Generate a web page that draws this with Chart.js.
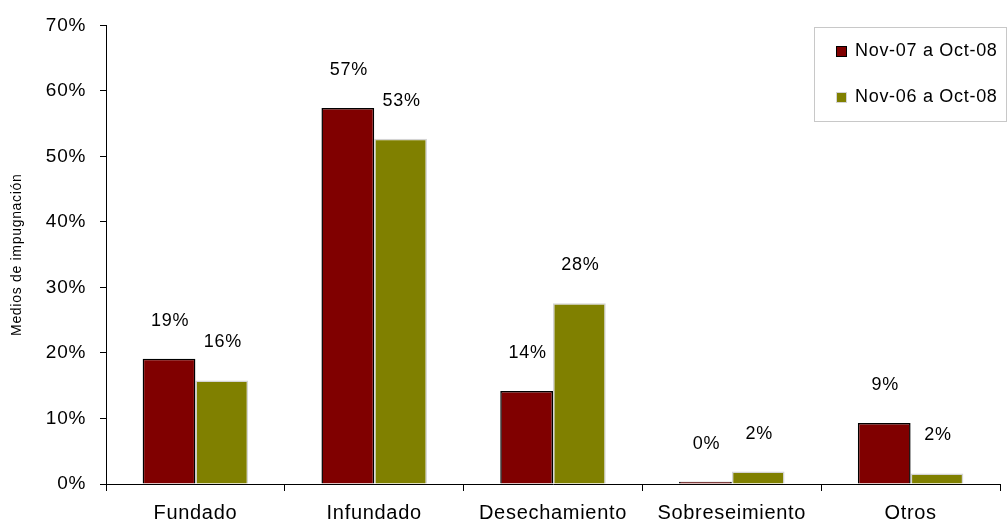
<!DOCTYPE html>
<html>
<head>
<meta charset="utf-8">
<script src="https://cdn.jsdelivr.net/npm/chart.js@4.4.0/dist/chart.umd.min.js"></script>
<style>
    html, body { margin: 0; padding: 0; background: #ffffff; }
    #wrap { width: 1007px; height: 525px; }
</style>
</head>
<body>
<div id="wrap"><canvas id="myChart" width="1007" height="525"></canvas></div>
<script>
/* datos */
const categorias = ['Fundado', 'Infundado', 'Desechamiento', 'Sobreseimiento', 'Otros'];
const nombresSeries = ['Nov-07 a Oct-08', 'Nov-06 a Oct-08'];
const serieNov07 = [19.1, 57.4, 14.2, 0.35, 9.3];
const serieNov06 = [15.8, 52.7, 27.6, 1.9, 1.6];
const ticksY = [0, 10, 20, 30, 40, 50, 60, 70];

const fuente = 'Arial, "Liberation Sans", sans-serif';
const espaciado = '0.7px';

// el grafico original tiene el texto algo ensanchado
const espaciadoLetras = {
    id: 'espaciadoLetras',
    beforeLayout(chart) { chart.ctx.letterSpacing = espaciado; },
    beforeDraw(chart) { chart.ctx.letterSpacing = espaciado; }
};

const etiquetasBarras = {
    id: 'etiquetasBarras',
    afterDatasetsDraw(chart) {
        const ctx = chart.ctx;
        ctx.save();
        ctx.font = '18px ' + fuente;
        ctx.fillStyle = '#000000';
        ctx.textAlign = 'center';
        ctx.textBaseline = 'middle';
        chart.data.datasets.forEach((ds, i) => {
            chart.getDatasetMeta(i).data.forEach((bar, j) => {
                ctx.fillText(Math.round(ds.data[j]) + '%', bar.x + 1, bar.y - 38);
            });
        });
        ctx.restore();
    }
};

const leyenda = {
    id: 'leyenda',
    afterDraw(chart) {
        const ctx = chart.ctx;
        ctx.save();
        ctx.fillStyle = '#ffffff';
        ctx.fillRect(814, 27, 192, 94);
        ctx.strokeStyle = '#c8c8c8';
        ctx.lineWidth = 1;
        ctx.strokeRect(814.5, 27.5, 192, 94);
        ctx.font = '18px ' + fuente;
        ctx.textBaseline = 'middle';
        ctx.textAlign = 'left';
        chart.data.datasets.forEach((ds, i) => {
            const y = 51 + i * 46;
            ctx.fillStyle = ds.backgroundColor;
            ctx.fillRect(836, y - 5, 11, 11);
            ctx.strokeStyle = ds.borderColor;
            ctx.strokeRect(836.5, y - 4.5, 10, 10);
            ctx.fillStyle = '#000000';
            ctx.fillText(ds.label, 855, y);
        });
        ctx.restore();
    }
};

const ctx = document.getElementById('myChart');

new Chart(ctx, {
    type: 'bar',
    data: {
        labels: categorias,
        datasets: [{
            label: nombresSeries[0],
            data: serieNov07,
            backgroundColor: '#800000',
            borderColor: '#000000',
            borderWidth: 1.5
        },
        {
            label: nombresSeries[1],
            data: serieNov06,
            backgroundColor: '#808000',
            borderColor: '#d4d4d4',
            borderWidth: 1.5
        }]
    },
    options: {
        responsive: false,
        animation: false,
        categoryPercentage: 0.59,
        barPercentage: 1,
        layout: {
            padding: { top: 24, right: 7, left: 0, bottom: 0 }
        },
        plugins: {
            legend: { display: false },
            tooltip: { enabled: false }
        },
        scales: {
            x: {
                grid: {
                    offset: true,
                    drawOnChartArea: false,
                    tickLength: 7,
                    color: '#000000'
                },
                border: { color: '#000000', width: 1 },
                ticks: {
                    color: '#000000',
                    padding: 10,
                    maxRotation: 0,
                    font: { family: fuente, size: 20 }
                },
                afterFit(scale) { scale.height = 41; }
            },
            y: {
                min: 0,
                max: 70,
                afterBuildTicks(scale) {
                    scale.ticks = ticksY.map(v => ({ value: v }));
                },
                grid: {
                    drawOnChartArea: false,
                    tickLength: 6,
                    color: '#000000'
                },
                border: { color: '#000000', width: 1 },
                ticks: {
                    color: '#000000',
                    padding: 14,
                    font: { family: fuente, size: 19 },
                    callback: v => v + '%'
                },
                title: {
                    display: true,
                    text: 'Medios de impugnación',
                    color: '#000000',
                    padding: { top: 9, bottom: 4 },
                    font: { family: fuente, size: 14 }
                },
                afterFit(scale) { scale.width = 106; }
            }
        }
    },
    plugins: [espaciadoLetras, etiquetasBarras, leyenda]
});
</script>
</body>
</html>
